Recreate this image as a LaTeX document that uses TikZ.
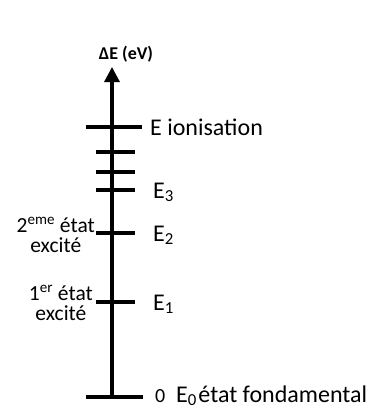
\documentclass[tikz,border=0pt]{standalone}
\usepackage{fontspec}
\setmainfont{Carlito}
\usetikzlibrary{arrows.meta}
\usetikzlibrary{calc}
\newcommand{\drawlevel}{\draw[line width=3.2pt]}

\begin{document}
\begin{tikzpicture}[x=1pt,y=-1pt,
    elabel/.style={anchor=base west,inner sep=0pt,font=\fontsize{24}{26}\selectfont},
    state/.style={anchor=north east,inner sep=0pt,align=center,font=\fontsize{21.5}{20}\selectfont}]
    \useasboundingbox (0,0) rectangle (377,410);

    % Draw axis
    \coordinate (base) at (112,397);
    \coordinate (top) at (112,67);
    \draw[line width=3.2pt, -{Triangle[length=15pt,width=15pt]}] (base) -- (top);
    \node[anchor=base,inner sep=0pt,font=\bfseries\fontsize{18}{18}\selectfont] (axis) at (126,59) {ΔE (eV)};

    % Draw levels
    \coordinate (ionL) at (86,127);
    \coordinate (ionR) at (142,127);
    \coordinate (E0L) at (86,397);
    \coordinate (E0R) at (143,397);
    \drawlevel (ionL) -- (ionR);
    \drawlevel (E0L) -- (E0R);
    \foreach \y/\n in {152/a,172/b,190/3,233/2,302/1} {
        \coordinate (E\n L) at (96,\y);
        \coordinate (E\n R) at (135,\y);
        \drawlevel (E\n L) -- (E\n R);
    }

    % Draw labels
    \node[elabel] (ion) at (150,135) {E ionisation};
    \node[elabel] (lab3) at (153,198) {E\textsubscript{3}};
    \node[elabel] (lab2) at (153,241) {E\textsubscript{2}};
    \node[elabel] (lab1) at (153,310) {E\textsubscript{1}};
    \node[elabel,font=\fontsize{20}{20}\selectfont] (zero) at (155,402) {0};
    \node[elabel,font=\fontsize{24}{26}\selectfont] (lab0) at (176,402) {E\textsubscript{0}\hspace{1.5pt}état fondamental};

    \node[state] (exc2) at (95,217) {2\textsuperscript{eme} état\\excité};
    \node[state] (exc1) at (93,285) {1\textsuperscript{er} état\\excité};
\end{tikzpicture}
\end{document}
